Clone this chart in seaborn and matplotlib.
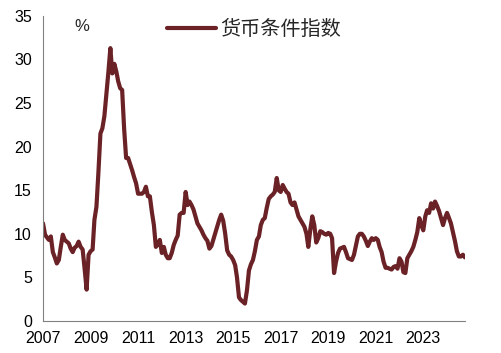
import pandas as pd
import matplotlib.pyplot as plt
import matplotlib.dates as mdates
import seaborn as sns

# monthly readings, Jan 2007 onwards
start_month = "2007-01"
index_values = [
    11.2, 9.9, 9.6, 9.3, 9.7, 7.9, 7.3, 6.6, 7.0, 8.5,
    9.9, 9.3, 9.1, 8.9, 8.3, 7.9, 8.4, 8.6, 9.1, 8.5,
    8.2, 6.0, 3.6, 7.6, 8.0, 8.2, 11.6, 13.1, 17.0, 21.5,
    22.1, 23.5, 26.0, 28.5, 31.3, 28.4, 29.5, 28.6, 27.5, 26.7,
    26.5, 22.0, 18.7, 18.7, 18.0, 17.3, 16.5, 15.8, 14.6, 14.6,
    14.6, 14.8, 15.4, 14.3, 14.3, 12.5, 11.0, 8.5, 8.8, 9.3,
    7.8, 8.5, 7.6, 7.2, 7.2, 7.8, 8.7, 9.3, 9.8, 12.2,
    12.4, 12.4, 14.8, 13.3, 13.7, 13.3, 12.8, 12.0, 11.2, 10.8,
    10.4, 9.9, 9.5, 9.2, 8.3, 8.6, 9.3, 10.1, 10.8, 11.6,
    12.2, 11.5, 10.0, 8.1, 7.6, 7.4, 7.0, 6.4, 5.0, 2.7,
    2.4, 2.2, 2.0, 3.5, 5.8, 6.5, 7.0, 8.0, 9.3, 9.7,
    11.0, 11.6, 11.8, 13.0, 14.0, 14.3, 14.5, 14.8, 16.4, 15.0,
    14.8, 15.6, 15.2, 14.8, 14.6, 13.6, 13.3, 13.6, 12.8, 12.0,
    11.6, 11.2, 10.8, 10.0, 8.5, 10.5, 12.0, 11.0, 9.0, 9.5,
    10.3, 10.2, 10.0, 9.9, 10.1, 10.0, 9.5, 5.5, 6.8, 7.8,
    8.3, 8.4, 8.5, 7.9, 7.2, 7.1, 7.0, 7.6, 8.6, 9.7,
    10.0, 10.0, 9.7, 9.2, 8.6, 9.1, 9.5, 9.3, 9.5, 9.3,
    8.5, 7.9, 6.8, 6.1, 6.1, 6.0, 5.9, 6.2, 6.3, 6.0,
    7.2, 6.8, 5.6, 5.5, 7.2, 7.6, 8.0, 8.5, 9.3, 10.2,
    11.8, 11.0, 10.4, 12.0, 12.7, 12.4, 13.5, 12.9, 13.7, 13.2,
    12.6, 11.8, 11.0, 11.8, 12.4, 11.8, 11.2, 10.2, 9.2, 8.0,
    7.4, 7.4, 7.6, 7.3,
]
tick_years = [2007, 2009, 2011, 2013, 2015, 2017, 2019, 2021, 2023]
y_ticks = [0, 5, 10, 15, 20, 25, 30, 35]
series_name = "货币条件指数"

df = pd.DataFrame({
    "date": pd.date_range(start_month, periods=len(index_values), freq="MS"),
    "value": index_values,
})

sns.set_style("white")
plt.rcParams["font.family"] = ["Liberation Sans", "Noto Sans CJK SC", "DejaVu Sans"]

fig = plt.figure(figsize=(5.02, 3.53), dpi=100)
ax = fig.add_axes([0.0857, 0.0907, 0.8403, 0.8643])

sns.lineplot(data=df, x="date", y="value", ax=ax, color="#6b2226",
             linewidth=3.0, label=series_name)

ax.set_xlim(df["date"].iloc[0], df["date"].iloc[-1])
ax.set_ylim(0, 35)
ax.set_yticks(y_ticks)
ax.set_xticks([pd.Timestamp(f"{y}-01-01") for y in tick_years])
ax.xaxis.set_major_formatter(mdates.DateFormatter("%Y"))
ax.set_xlabel("")
ax.set_ylabel("")

for side in ["top", "right"]:
    ax.spines[side].set_visible(False)
for side in ["left", "bottom"]:
    ax.spines[side].set_color("#808080")
    ax.spines[side].set_linewidth(0.8)
ax.tick_params(axis="both", direction="in", length=5, color="#808080",
               labelsize=11.5, labelcolor="#000000")
ax.tick_params(axis="y", pad=8)
ax.tick_params(axis="x", pad=7)

ax.text(0.075, 0.99, "%", transform=ax.transAxes, fontsize=12,
        ha="left", va="top")

leg = ax.legend(loc="upper center", bbox_to_anchor=(0.5, 1.05), frameon=False,
                handlelength=2.4, handletextpad=0.2,
                prop={"family": ["Noto Sans CJK SC", "DejaVu Sans"], "size": 14.5})

fig.savefig("out.png", dpi=100)
